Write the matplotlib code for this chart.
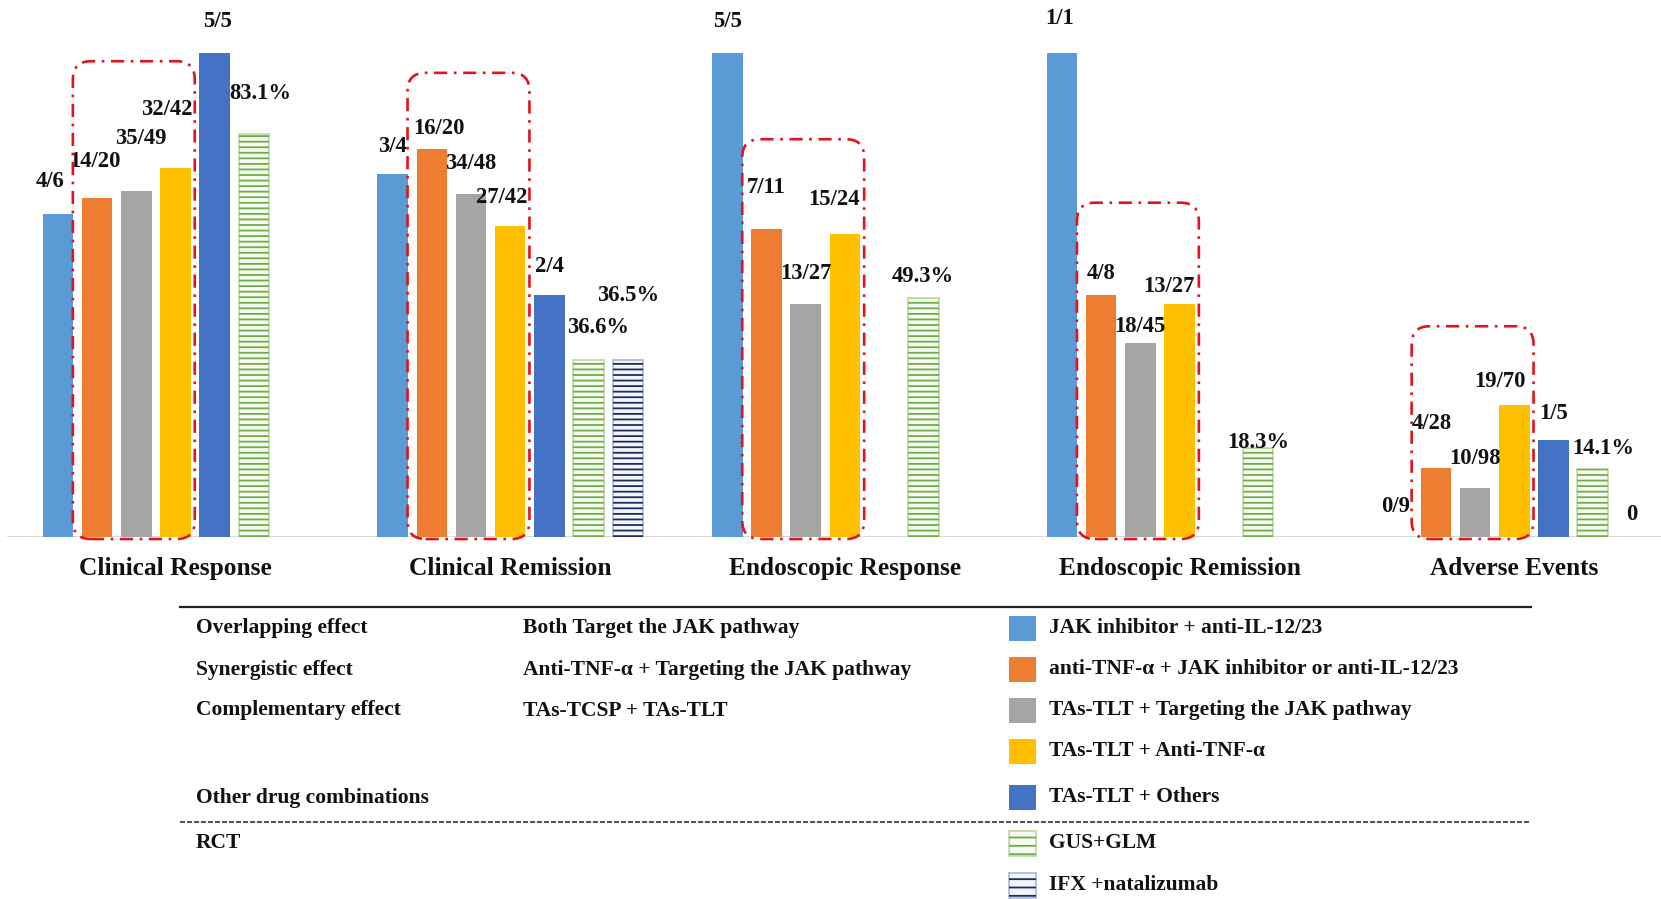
import numpy as np
import matplotlib.pyplot as plt
from matplotlib.patches import Rectangle, FancyBboxPatch
from matplotlib.lines import Line2D

plt.rcParams['font.family'] = ['Liberation Serif', 'DejaVu Serif']
plt.rcParams['font.weight'] = 'bold'
plt.rcParams['hatch.linewidth'] = 1.3

categories = ['Clinical Response', 'Clinical Remission', 'Endoscopic Response',
              'Endoscopic Remission', 'Adverse Events']

# response rates per combination (fractions = events/patients, % = RCT pooled)
jak_il = ['4/6', '3/4', '5/5', '1/1', '0/9']
tnf_jak_il = ['14/20', '16/20', '7/11', '4/8', '4/28']
tlt_jak = ['35/49', '34/48', '13/27', '18/45', '10/98']
tlt_tnf = ['32/42', '27/42', '15/24', '13/27', '19/70']
tlt_others = ['5/5', '2/4', None, None, '1/5']
gus_glm = ['83.1%', '36.6%', '49.3%', '18.3%', '14.1%']
ifx_nat = [None, '36.5%', None, None, '0']

series = [jak_il, tnf_jak_il, tlt_jak, tlt_tnf, tlt_others, gus_glm, ifx_nat]
series_names = ['JAK inhibitor + anti-IL-12/23',
                'anti-TNF-α + JAK inhibitor or anti-IL-12/23',
                'TAs-TLT + Targeting the JAK pathway',
                'TAs-TLT + Anti-TNF-α',
                'TAs-TLT + Others',
                'GUS+GLM',
                'IFX +natalizumab']

# label placement: horizontal nudge (px) and height (axis units)
label_dx = [[-8, -2, 5, -9, 3, 6, 0],
            [0, 7, 0, -8, 0, 9, 0],
            [0, 0, 0, -11, 0, 0, 0],
            [-2, 0, 0, -11, 0, 0, 0],
            [-1, -4, 0, -14, 0, 11, 0]]
label_y = [[0.733, 0.776, 0.822, 0.883, 1.063, 0.915, None],
           [0.806, 0.843, 0.771, 0.701, 0.559, 0.432, 0.498],
           [1.063, 0.721, 0.544, 0.696, None, 0.537, None],
           [1.071, 0.544, 0.435, 0.516, None, 0.195, None],
           [0.063, 0.235, 0.162, 0.321, 0.255, 0.183, 0.047]]
box_tops = [0.982, 0.958, 0.821, 0.69, 0.435]


def to_value(s):
    if s is None:
        return np.nan
    if s.endswith('%'):
        return float(s[:-1]) / 100
    if '/' in s:
        n, d = s.split('/')
        return float(n) / float(d)
    return float(s)


solid_colors = ['#5B9BD5', '#ED7D31', '#A5A5A5', '#FFC000', '#4472C4']
hatch_styles = [('#F6FBF1', '#C6DDB0', '#70AD47'),   # fill, edge, lines
                ('#F3F5FB', '#B4C2E0', '#1F2D5E')]

W, H = 1661, 899
CAT_PX = 334.7          # pixels per category
X0_PX = 175.5           # centre of first category
BASE_PX, TOP_PX = 537, 52.5
UNIT_PX = BASE_PX - TOP_PX
step = 39.2 / CAT_PX
width = 30.5 / CAT_PX

fig = plt.figure(figsize=(W / 100, H / 100), dpi=100)
fig.patch.set_facecolor('white')
ax = fig.add_axes([0, 1 - BASE_PX / H, 1, 1.1 * UNIT_PX / H])
ax.set_xlim(-X0_PX / CAT_PX, (W - X0_PX) / CAT_PX)
ax.set_ylim(0, 1.1)
ax.axis('off')

ax.axhline(0, xmin=8 / W, xmax=1, color='#D9D9D9', lw=1.5, zorder=1)

cat_x = np.arange(len(categories))
for j, labels in enumerate(series):
    vals = np.array([to_value(s) for s in labels])
    xs = cat_x + (j - 3) * step
    ok = ~np.isnan(vals)
    if j < 5:
        ax.bar(xs[ok], vals[ok], width=width, color=solid_colors[j], zorder=2)
    else:
        # zero-height bars would leave a stray outline, so only outline positives
        ok = ok & (np.nan_to_num(vals) > 0)
        fill, edge, line = hatch_styles[j - 5]
        ax.bar(xs[ok], vals[ok], width=width, facecolor=fill, edgecolor=edge,
               linewidth=1.4, zorder=2)
        ax.bar(xs[ok], vals[ok], width=width, facecolor='none', edgecolor=line,
               linewidth=0, hatch='---', zorder=3)
    for i, s in enumerate(labels):
        if s is None:
            continue
        ax.annotate(s, xy=(xs[i], label_y[i][j]), xytext=(label_dx[i][j], 0),
                    textcoords='offset pixels', ha='center', va='center',
                    fontsize=16.3, fontweight='bold', color='#111111',
                    annotation_clip=False)

for i, cat in enumerate(categories):
    ax.text(i, -31.3 / UNIT_PX, cat, ha='center', va='center', fontsize=18.3,
            fontweight='bold', color='#111111', clip_on=False)

# dash-dot frames around the orange / grey / yellow bars of each group
to_fig = ax.transData + fig.transFigure.inverted()
for i, top in enumerate(box_tops):
    left = i - 2 * step - width / 2 - 9 / CAT_PX
    right = i + width / 2 + 4 / CAT_PX
    (x0, y0), (x1, y1) = to_fig.transform([(left, -2 / UNIT_PX), (right, top)])
    box = FancyBboxPatch((x0, y0), x1 - x0, y1 - y0,
                         boxstyle='round,pad=0,rounding_size=%f' % (18 / W),
                         mutation_aspect=W / H, transform=fig.transFigure,
                         fill=False, edgecolor='#E0141C', linewidth=1.9,
                         linestyle=(0, (5, 2.5, 1, 2.5)), zorder=5)
    fig.add_artist(box)


# legend table underneath
def fx(px):
    return px / W


def fy(px):
    return 1 - px / H


fig.add_artist(Line2D([fx(180), fx(1531)], [fy(607), fy(607)],
                      color='#222222', lw=1.6))
fig.add_artist(Line2D([fx(180), fx(1531)], [fy(822), fy(822)],
                      color='#333333', lw=1.2, linestyle=(0, (3, 1.2))))

rows_y = [628, 669.5, 710.5, 751.5, 797.5, 843.5, 885]
col1 = ['Overlapping effect', 'Synergistic effect', 'Complementary effect',
        None, 'Other drug combinations', 'RCT', None]
col2 = ['Both Target the JAK pathway', 'Anti-TNF-α + Targeting the JAK pathway',
        'TAs-TCSP + TAs-TLT', None, None, None, None]
for y, a, b in zip(rows_y, col1, col2):
    if a:
        fig.text(fx(196), fy(y), a, ha='left', va='center', fontsize=15.5,
                 fontweight='bold', color='#111111')
    if b:
        fig.text(fx(523), fy(y), b, ha='left', va='center', fontsize=15.5,
                 fontweight='bold', color='#111111')

for j, (y, name) in enumerate(zip(rows_y, series_names)):
    if j < 5:
        sw = Rectangle((fx(1009), fy(y + 12.5)), 27 / W, 25 / H,
                       transform=fig.transFigure, facecolor=solid_colors[j],
                       edgecolor='none')
        fig.add_artist(sw)
    else:
        fill, edge, line = hatch_styles[j - 5]
        fig.add_artist(Rectangle((fx(1009), fy(y + 12.5)), 27 / W, 25 / H,
                                 transform=fig.transFigure, facecolor=fill,
                                 edgecolor=edge, linewidth=1.4))
        fig.add_artist(Rectangle((fx(1009), fy(y + 12.5)), 27 / W, 25 / H,
                                 transform=fig.transFigure, facecolor='none',
                                 edgecolor=line, linewidth=0, hatch='--'))
    fig.text(fx(1049), fy(y), name, ha='left', va='center', fontsize=15.5,
             fontweight='bold', color='#111111')

fig.savefig('out.png', dpi=100, facecolor='white')
